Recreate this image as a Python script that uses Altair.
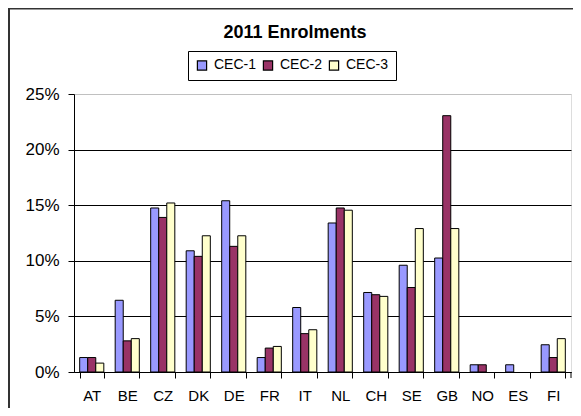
import altair as alt
import pandas as pd

countries = ["AT", "BE", "CZ", "DK", "DE", "FR", "IT", "NL", "CH", "SE", "GB", "NO", "ES", "FI"]
cec1 = [1.3, 6.45, 14.75, 10.9, 15.4, 1.3, 5.8, 13.4, 7.15, 9.6, 10.25, 0.65, 0.65, 2.45]
cec2 = [1.3, 2.8, 13.9, 10.4, 11.3, 2.15, 3.45, 14.75, 6.95, 7.6, 23.05, 0.65, 0.0, 1.3]
cec3 = [0.8, 3.0, 15.2, 12.25, 12.25, 2.3, 3.8, 14.55, 6.8, 12.9, 12.9, 0.0, 0.0, 3.0]
series = ["CEC-1", "CEC-2", "CEC-3"]
colors = ["#9999FF", "#993366", "#FFFFCC"]
title_text = "2011 Enrolments"

rows = []
for name, vals in zip(series, [cec1, cec2, cec3]):
    for c, v in zip(countries, vals):
        rows.append({"country": c, "series": name, "value": v / 100.0})
df = pd.DataFrame(rows)

FONT = "Liberation Sans"
W, H = 497, 278

bars = alt.Chart(df).transform_filter("datum.value > 0").mark_bar(
    stroke="black", strokeWidth=1
).encode(
    x=alt.X("country:N", sort=countries,
            scale=alt.Scale(paddingInner=0.32, paddingOuter=0.16),
            axis=alt.Axis(title=None, labelAngle=0, labelFont=FONT, labelFontSize=15,
                          labelColor="black", domainColor="black", tickColor="black",
                          tickSize=6, tickBand="extent", labelPadding=10)),
    xOffset=alt.XOffset("series:N", sort=series, scale=alt.Scale(paddingInner=0, paddingOuter=0)),
    y=alt.Y("value:Q", scale=alt.Scale(domain=[0, 0.25]),
            axis=alt.Axis(title=None, format=".0%", values=[0, 0.05, 0.10, 0.15, 0.20, 0.25],
                          labelFont=FONT, labelFontSize=17, labelColor="black",
                          domainColor="black", tickColor="black", tickSize=6, labelPadding=9,
                          grid=True,
                          gridColor={"condition": {"test": "datum.value >= 0.249", "value": "#c0c0c0"},
                                     "value": "#000000"})),
    color=alt.Color("series:N", sort=series,
                    scale=alt.Scale(domain=series, range=colors),
                    legend=alt.Legend(title=None, orient="none", legendX=114, legendY=-43,
                                      direction="horizontal", strokeColor="black", padding=7,
                                      symbolType="square", symbolSize=85,
                                      symbolStrokeColor="black", symbolStrokeWidth=1.2,
                                      labelFont=FONT, labelFontSize=14, labelColor="black",
                                      columnPadding=3, labelOffset=5)),
)

deco = pd.DataFrame({"a": [0]})
end_tick = alt.Chart(deco).mark_rule(color="black", strokeWidth=1).encode(
    x=alt.value(W), y=alt.value(H), y2=alt.value(H + 6))
border_left = alt.Chart(deco).mark_rule(color="#333333", strokeWidth=2).encode(
    x=alt.value(-65), y=alt.value(-86), y2=alt.value(330))
border_top = alt.Chart(deco).mark_rule(color="#333333", strokeWidth=1.5).encode(
    x=alt.value(-66), x2=alt.value(520), y=alt.value(-85.25))
title = alt.Chart(deco).mark_text(
    text=title_text, font=FONT, fontSize=18, fontWeight="bold", color="black",
    align="center", baseline="alphabetic"
).encode(x=alt.value(221), y=alt.value(-56.5))

chart = alt.layer(bars, end_tick, border_left, border_top, title).properties(
    width=W, height=H,
    autosize=alt.AutoSizeParams(type="none"),
    padding={"left": 66, "top": 86, "right": 2, "bottom": 36},
).configure_view(stroke="#c0c0c0", strokeWidth=1.5).configure(background="white")

chart.save("out.html", embed_options={"renderer": "svg", "actions": False})
